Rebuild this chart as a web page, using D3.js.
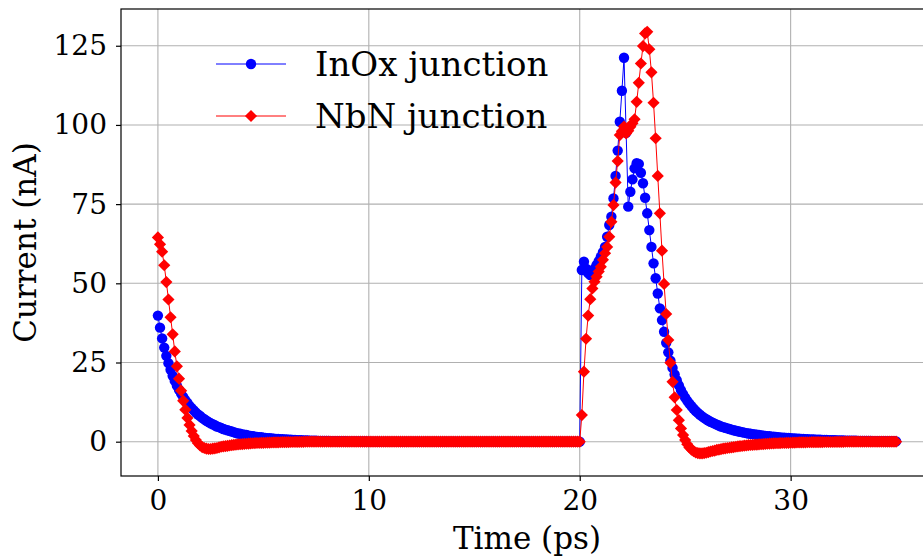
<!DOCTYPE html>
<html>
<head>
<meta charset="utf-8">
<script src="https://cdn.jsdelivr.net/npm/d3@7"></script>
<style>
body { margin: 0; background: #fff; }
svg { display: block; font-family: "DejaVu Serif", serif; }
</style>
</head>
<body>
<svg id="chart"></svg>
<script>
// sampling step of both traces (ps)
const dt = 0.1;

const seriesNames = ["InOx junction", "NbN junction"];
const xTicks = [0, 10, 20, 30];
const yTicks = [0, 25, 50, 75, 100, 125];

// InOx junction current (nA), one value every 0.1 ps from 0 to 35 ps
const inox = [
  39.8, 36.0, 32.6, 29.7, 27.1, 24.8, 22.7, 20.8, 19.2, 17.7,
  16.4, 15.2, 14.1, 13.1, 12.2, 11.3, 10.6, 9.9, 9.2, 8.6,
  8.1, 7.5, 7.1, 6.6, 6.2, 5.8, 5.5, 5.2, 4.8, 4.6,
  4.3, 4.0, 3.8, 3.6, 3.4, 3.2, 3.0, 2.8, 2.6, 2.5,
  2.3, 2.2, 2.1, 1.9, 1.8, 1.7, 1.6, 1.5, 1.4, 1.4,
  1.3, 1.2, 1.1, 1.1, 1.0, 0.96, 0.9, 0.85, 0.8, 0.76,
  0.71, 0.67, 0.63, 0.6, 0.56, 0.53, 0.5, 0.47, 0.44, 0.42,
  0.39, 0.37, 0.35, 0.33, 0.31, 0.29, 0.27, 0.26, 0.24, 0.23,
  0.22, 0.2, 0.19, 0.18, 0.17, 0.16, 0.15, 0.14, 0.13, 0.12,
  0.11, 0.1, 0.1, 0.09, 0.09, 0.08, 0.08, 0.07, 0.07, 0.06,
  0, 0, 0, 0, 0, 0, 0, 0, 0, 0,
  0, 0, 0, 0, 0, 0, 0, 0, 0, 0,
  0, 0, 0, 0, 0, 0, 0, 0, 0, 0,
  0, 0, 0, 0, 0, 0, 0, 0, 0, 0,
  0, 0, 0, 0, 0, 0, 0, 0, 0, 0,
  0, 0, 0, 0, 0, 0, 0, 0, 0, 0,
  0, 0, 0, 0, 0, 0, 0, 0, 0, 0,
  0, 0, 0, 0, 0, 0, 0, 0, 0, 0,
  0, 0, 0, 0, 0, 0, 0, 0, 0, 0,
  0, 0, 0, 0, 0, 0, 0, 0, 0, 0,
  0, 54.2, 56.8, 54.6, 53.2, 52.6, 53.4, 54.6, 55.8, 57.0,
  58.3, 59.8, 61.5, 64.7, 68.4, 71.0, 76.8, 83.9, 91.9, 101.0,
  110.8, 121.2, 97.5, 74.2, 78.9, 82.8, 86.3, 87.9, 87.7, 84.9,
  81.6, 77.0, 72.1, 66.8, 61.5, 56.3, 51.6, 46.8, 42.1, 38.4,
  34.7, 31.2, 28.2, 25.6, 23.3, 21.2, 19.4, 17.8, 16.3, 15.0,
  13.9, 12.9, 12.0, 11.2, 10.4, 9.7, 9.1, 8.5, 8.0, 7.5,
  7.1, 6.7, 6.3, 6.0, 5.7, 5.4, 5.1, 4.8, 4.6, 4.4,
  4.2, 4.0, 3.8, 3.6, 3.45, 3.3, 3.15, 3.0, 2.85, 2.7,
  2.6, 2.5, 2.4, 2.3, 2.2, 2.1, 2.0, 1.9, 1.8, 1.75,
  1.7, 1.6, 1.55, 1.5, 1.4, 1.35, 1.3, 1.25, 1.2, 1.15,
  1.1, 1.05, 1.0, 0.96, 0.92, 0.88, 0.84, 0.8, 0.77, 0.74,
  0.71, 0.68, 0.65, 0.62, 0.6, 0.57, 0.55, 0.52, 0.5, 0.48,
  0.46, 0.44, 0.42, 0.4, 0.38, 0.36, 0.35, 0.33, 0.32, 0.3,
  0.29, 0.28, 0.26, 0.25, 0.24, 0.23, 0.22, 0.21, 0.2, 0.19,
  0.18, 0.17, 0.16, 0.16, 0.15, 0.14, 0.14, 0.13, 0.12, 0.12,
  0.11
];

// NbN junction current (nA), same time base
const nbn = [
  64.5, 62.3, 60.0, 55.7, 50.4, 44.9, 39.3, 33.9, 28.5, 23.8,
  19.9, 16.1, 12.9, 10.1, 7.5, 5.3, 3.4, 1.8, 0.5, -0.5,
  -1.2, -1.7, -2.0, -2.2, -2.3, -2.3, -2.2, -2.1, -2.0, -1.8,
  -1.6, -1.5, -1.4, -1.3, -1.2, -1.1, -1.0, -0.9, -0.85, -0.8,
  -0.75, -0.7, -0.65, -0.6, -0.55, -0.5, -0.45, -0.42, -0.4, -0.37,
  -0.35, -0.32, -0.3, -0.28, -0.26, -0.24, -0.22, -0.2, -0.18, -0.16,
  -0.15, -0.13, -0.12, -0.1, -0.1, -0.08, -0.07, -0.06, -0.05, -0.04,
  0, 0, 0, 0, 0, 0, 0, 0, 0, 0,
  0, 0, 0, 0, 0, 0, 0, 0, 0, 0,
  0, 0, 0, 0, 0, 0, 0, 0, 0, 0,
  0, 0, 0, 0, 0, 0, 0, 0, 0, 0,
  0, 0, 0, 0, 0, 0, 0, 0, 0, 0,
  0, 0, 0, 0, 0, 0, 0, 0, 0, 0,
  0, 0, 0, 0, 0, 0, 0, 0, 0, 0,
  0, 0, 0, 0, 0, 0, 0, 0, 0, 0,
  0, 0, 0, 0, 0, 0, 0, 0, 0, 0,
  0, 0, 0, 0, 0, 0, 0, 0, 0, 0,
  0, 0, 0, 0, 0, 0, 0, 0, 0, 0,
  0, 0, 0, 0, 0, 0, 0, 0, 0, 0,
  0, 0, 0, 0, 0, 0, 0, 0, 0, 0,
  0, 8.4, 22.1, 32.5, 39.8, 45.0, 48.4, 50.5, 52.1, 53.7,
  55.2, 57.4, 59.5, 61.5, 64.7, 69.4, 74.7, 81.8, 88.6, 96.8,
  98.0, 99.5, 97.3, 98.2, 99.4, 100.5, 101.8, 107.3, 113.3, 119.4,
  124.9, 128.9, 129.4, 123.9, 116.6, 107.0, 95.8, 83.9, 72.1, 60.3,
  49.8, 40.3, 32.1, 24.9, 18.9, 14.0, 10.0, 6.8, 4.2, 2.1,
  0.5, -0.8, -1.8, -2.5, -3.0, -3.4, -3.6, -3.7, -3.7, -3.6,
  -3.5, -3.3, -3.1, -2.95, -2.8, -2.6, -2.5, -2.35, -2.2, -2.1,
  -2.0, -1.9, -1.8, -1.7, -1.6, -1.5, -1.4, -1.35, -1.25, -1.2,
  -1.1, -1.05, -1.0, -0.95, -0.9, -0.85, -0.8, -0.75, -0.7, -0.65,
  -0.6, -0.57, -0.54, -0.5, -0.48, -0.45, -0.42, -0.4, -0.37, -0.35,
  -0.33, -0.3, -0.28, -0.26, -0.24, -0.22, -0.2, -0.19, -0.18, -0.17,
  -0.16, -0.15, -0.14, -0.13, -0.12, -0.11, -0.1, -0.1, -0.1, -0.1,
  -0.1, -0.05, -0.05, -0.05, -0.05, -0.05, 0, 0, 0, 0,
  0, 0, 0, 0, 0, 0, 0, 0, 0, 0,
  0, 0, 0, 0, 0, 0, 0, 0, 0, 0,
  0
];

const time = d3.range(inox.length).map(i => +(i * dt).toFixed(1));

class CurrentPlot {

    constructor( config, data ) {
        this.config = {
            parent: config.parent,
            width: config.width || 923,
            height: config.height || 560,
            // right edge of the axes sits past the picture edge (cropped figure)
            margin: config.margin || {top:9, right:-10, bottom:84, left:121}
        }
        this.data = data;
        this.init();
    }

    init() {
        let self = this;

        self.svg = d3.select( self.config.parent )
            .attr('width', self.config.width)
            .attr('height', self.config.height);

        self.chart = self.svg.append('g')
            .attr('transform', `translate(${self.config.margin.left}, ${self.config.margin.top})`);

        self.inner_width = self.config.width - self.config.margin.left - self.config.margin.right;
        self.inner_height = self.config.height - self.config.margin.top - self.config.margin.bottom;

        self.xscale = d3.scaleLinear()
            .domain([-1.75, 36.75])
            .range([0, self.inner_width]);

        self.yscale = d3.scaleLinear()
            .domain([-10.83, 136.6])
            .range([self.inner_height, 0]);

        self.xaxis = d3.axisBottom( self.xscale )
            .tickValues(xTicks)
            .tickSize(5)
            .tickPadding(9)
            .tickSizeOuter(0);

        self.yaxis = d3.axisLeft( self.yscale )
            .tickValues(yTicks)
            .tickSize(5)
            .tickPadding(9)
            .tickSizeOuter(0);
    }

    render() {
        let self = this;

        // grid
        self.chart.append('g')
            .selectAll('line')
            .data(xTicks)
            .join('line')
            .attr('x1', d => self.xscale(d))
            .attr('x2', d => self.xscale(d))
            .attr('y1', 0)
            .attr('y2', self.inner_height)
            .attr('stroke', '#b0b0b0')
            .attr('stroke-width', 1.1);

        self.chart.append('g')
            .selectAll('line')
            .data(yTicks)
            .join('line')
            .attr('x1', 0)
            .attr('x2', self.inner_width)
            .attr('y1', d => self.yscale(d))
            .attr('y2', d => self.yscale(d))
            .attr('stroke', '#b0b0b0')
            .attr('stroke-width', 1.1);

        const line = d3.line()
            .x(d => self.xscale(d.t))
            .y(d => self.yscale(d.v));

        const diamond = d3.symbol(d3.symbolSquare, 74);

        self.data.forEach(s => {
            const g = self.chart.append('g');
            g.append('path')
                .datum(s.values)
                .attr('d', line)
                .attr('fill', 'none')
                .attr('stroke', s.color)
                .attr('stroke-width', 1);

            if (s.marker === 'circle') {
                g.selectAll('circle')
                    .data(s.values)
                    .join('circle')
                    .attr('cx', d => self.xscale(d.t))
                    .attr('cy', d => self.yscale(d.v))
                    .attr('r', 5.2)
                    .attr('fill', s.color);
            } else {
                g.selectAll('path.mk')
                    .data(s.values)
                    .join('path')
                    .attr('class', 'mk')
                    .attr('d', diamond)
                    .attr('transform', d => `translate(${self.xscale(d.t)},${self.yscale(d.v)}) rotate(45)`)
                    .attr('fill', s.color);
            }
        });

        // frame
        self.chart.append('rect')
            .attr('width', self.inner_width)
            .attr('height', self.inner_height)
            .attr('fill', 'none')
            .attr('stroke', '#000')
            .attr('stroke-width', 1.2);

        self.xaxis_group = self.chart.append('g')
            .attr('transform', `translate(0, ${self.inner_height})`)
            .call( self.xaxis );

        self.yaxis_group = self.chart.append('g')
            .call( self.yaxis );

        [self.xaxis_group, self.yaxis_group].forEach(g => {
            g.select('.domain').remove();
            g.selectAll('.tick line').attr('stroke', '#000').attr('stroke-width', 1.2);
            g.selectAll('.tick text')
                .attr('fill', '#000')
                .attr('font-family', '"DejaVu Serif", serif')
                .attr('font-size', '28px');
        });

        self.svg.append('text')
            .attr('x', self.config.margin.left + self.inner_width / 2)
            .attr('y', 549)
            .attr('text-anchor', 'middle')
            .attr('font-size', '31px')
            .text('Time (ps)');

        self.svg.append('text')
            .attr('transform', `translate(36, ${self.config.margin.top + self.inner_height / 2}) rotate(-90)`)
            .attr('text-anchor', 'middle')
            .attr('font-size', '31px')
            .text('Current (nA)');

        // legend
        const legend = self.svg.append('g')
            .attr('transform', 'translate(216, 64)');

        self.data.forEach((s, i) => {
            const row = legend.append('g').attr('transform', `translate(0, ${i * 52})`);
            row.append('line')
                .attr('x1', 0).attr('x2', 70)
                .attr('stroke', s.color)
                .attr('stroke-width', 1);
            if (s.marker === 'circle') {
                row.append('circle').attr('cx', 35).attr('r', 5.2).attr('fill', s.color);
            } else {
                row.append('path').attr('d', diamond)
                    .attr('transform', 'translate(35,0) rotate(45)')
                    .attr('fill', s.color);
            }
            row.append('text')
                .attr('x', 99)
                .attr('dy', '0.35em')
                .attr('font-size', '34px')
                .text(s.name);
        });
    }
}

const data = [
    { name: seriesNames[0], color: '#0000ff', marker: 'circle',
      values: time.map((t, i) => ({ t: t, v: inox[i] })) },
    { name: seriesNames[1], color: '#ff0000', marker: 'diamond',
      values: time.map((t, i) => ({ t: t, v: nbn[i] })) }
];

const plot = new CurrentPlot({ parent: '#chart' }, data);
plot.render();
</script>
</body>
</html>
